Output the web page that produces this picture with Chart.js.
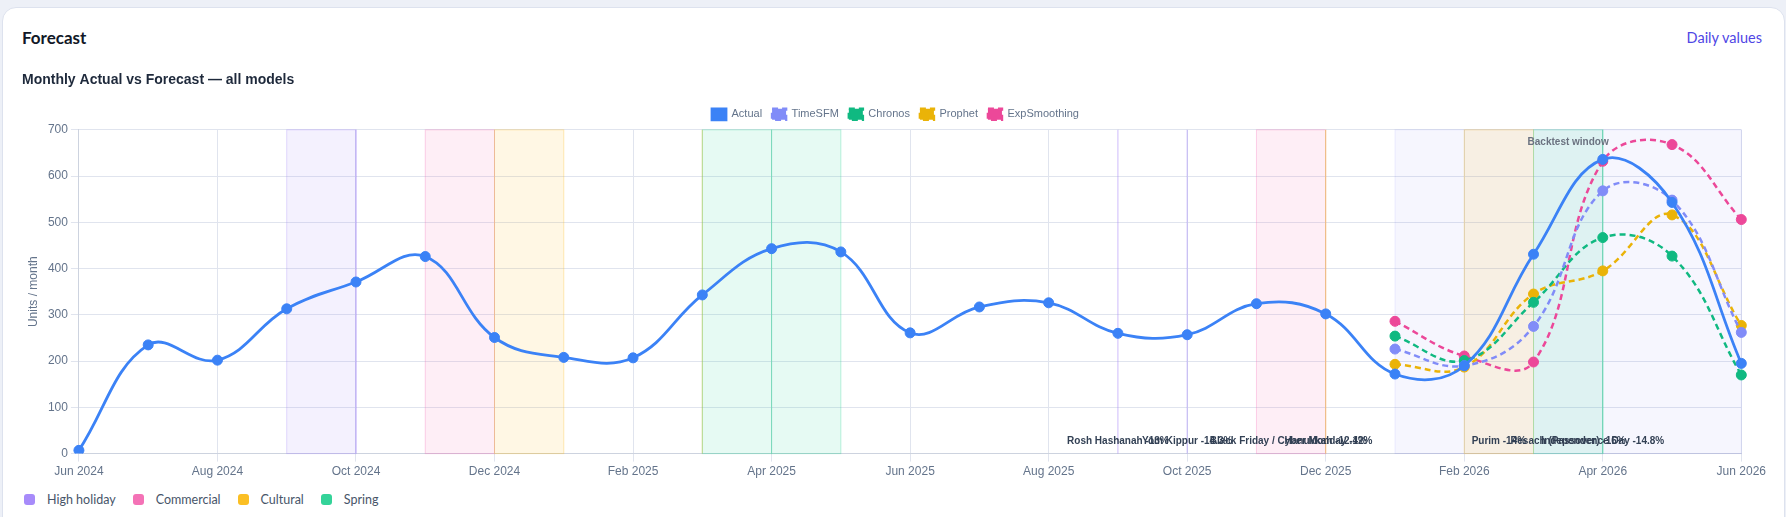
<!DOCTYPE html>
<html>
<head>
<meta charset="utf-8">
<script src="https://cdn.jsdelivr.net/npm/chart.js@4.4.1/dist/chart.umd.min.js"></script>
<style>
  html, body { margin:0; padding:0; width:1786px; height:517px; overflow:hidden; background:#edf0f7; font-family: Lato, "Noto Sans", sans-serif; }
  .card { position:absolute; left:2px; top:7px; width:1783px; height:560px; background:#fff; border:1px solid #dde2ee; border-radius:14px; box-sizing:border-box; }
  .hdr { position:absolute; left:22px; top:28px; font-size:17px; line-height:20px; font-weight:700; color:#111827; }
  .link { position:absolute; right:24px; top:28px; font-size:14.5px; line-height:20px; color:#4f46e5; }
  .wrap { position:absolute; left:22px; top:63px; width:1747px; height:419px; }
  .cats { position:absolute; left:24px; top:492px; display:flex; align-items:center; font-size:12.5px; color:#475569; }
  .cat { display:flex; align-items:center; margin-right:17px; }
  .dot { width:11px; height:11px; border-radius:3px; margin-right:12px; }
</style>
</head>
<body>
<div class="card"></div>
<div class="hdr">Forecast</div>
<div class="link">Daily values</div>
<div class="wrap"><canvas id="c"></canvas></div>
<div class="cats" id="cats"></div>
<script>
// ---- data ----
const months = ['Jun 2024','Jul 2024','Aug 2024','Sep 2024','Oct 2024','Nov 2024','Dec 2024',
  'Jan 2025','Feb 2025','Mar 2025','Apr 2025','May 2025','Jun 2025','Jul 2025','Aug 2025',
  'Sep 2025','Oct 2025','Nov 2025','Dec 2025','Jan 2026','Feb 2026','Mar 2026','Apr 2026',
  'May 2026','Jun 2026'];
const actual = [7,235,202,313,371,426,251,208,207,343,443,436,261,317,326,260,257,324,302,172,190,431,636,543,195];
const forecastStart = 'Jan 2026';
const timesfm = [226,190,275,568,548,262];
const chronos = [254,201,327,467,427,170];
const prophet = [193,187,345,395,516,277];
const expSmoothing = [286,211,198,632,668,506];

const backtestWindow = ['Jan 2026','Jun 2026'];

const holidayNames = ['Rosh Hashanah','Yom Kippur','Black Friday / Cyber Monday','Hanukkah','Purim','Pesach (Passover)','Independence Day',
  'Rosh Hashanah','Yom Kippur','Black Friday / Cyber Monday','Hanukkah','Purim','Pesach (Passover)','Independence Day'];
const holidayCats = ['High holiday','High holiday','Commercial','Cultural','Cultural','Spring','Spring',
  'High holiday','High holiday','Commercial','Cultural','Cultural','Spring','Spring'];
const holidayFrom = ['Sep 2024','Oct 2024','Nov 2024','Dec 2024','Mar 2025','Mar 2025','Apr 2025',
  'Sep 2025','Oct 2025','Nov 2025','Dec 2025','Feb 2026','Mar 2026','Apr 2026'];
const holidayTo = ['Oct 2024','Oct 2024','Dec 2024','Jan 2025','Mar 2025','Apr 2025','May 2025',
  'Sep 2025','Oct 2025','Dec 2025','Dec 2025','Mar 2026','Apr 2026','Apr 2026'];
const holidayImpact = [null,null,null,null,null,null,null,'-13%','-14.3%','-12%','-12.4%','-14%','-16%','-14.8%'];

const categoryNames = ['High holiday','Commercial','Cultural','Spring'];
const categoryColors = ['167,139,250','244,114,182','251,191,36','52,211,153'];

// ---- build ----
const startIdx = months.indexOf(forecastStart);
function pad(arr){ return months.map((m,i)=> i<startIdx ? null : arr[i-startIdx]); }

const catLegend = document.getElementById('cats');
categoryNames.forEach((n,i)=>{
  const d = document.createElement('div'); d.className='cat';
  d.innerHTML = '<span class="dot" style="background:rgb('+categoryColors[i]+')"></span>'+n;
  catLegend.appendChild(d);
});

const bandPlugin = {
  id:'bands',
  beforeDatasetsDraw(chart){
    const {ctx, chartArea:a, scales:{x}} = chart;
    const px = m => x.getPixelForValue(months.indexOf(m));
    ctx.save();
    const b0 = px(backtestWindow[0]), b1 = px(backtestWindow[1]);
    ctx.fillStyle = 'rgba(99,102,241,0.06)';
    ctx.fillRect(b0, a.top, b1-b0, a.bottom-a.top);
    ctx.strokeStyle = 'rgba(99,102,241,0.10)'; ctx.lineWidth = 1;
    ctx.strokeRect(b0, a.top, b1-b0, a.bottom-a.top);
    holidayNames.forEach((n,i)=>{
      const c = categoryColors[categoryNames.indexOf(holidayCats[i])];
      const x0 = px(holidayFrom[i]), x1 = px(holidayTo[i]);
      ctx.fillStyle = 'rgba('+c+',0.12)';
      ctx.fillRect(x0, a.top, x1-x0, a.bottom-a.top);
      ctx.strokeStyle = 'rgba('+c+',0.32)';
      ctx.lineWidth = 1;
      ctx.strokeRect(x0, a.top, x1-x0, a.bottom-a.top);
    });
    ctx.restore();
  },
  afterDatasetsDraw(chart){
    const {ctx, chartArea:a, scales:{x}} = chart;
    const px = m => x.getPixelForValue(months.indexOf(m));
    ctx.save();
    ctx.font = 'bold 10px "Liberation Sans", Arial, sans-serif';
    ctx.textAlign = 'center'; ctx.textBaseline = 'middle';
    ctx.fillStyle = '#6b7280';
    ctx.fillText('Backtest window', (px(backtestWindow[0])+px(backtestWindow[1]))/2, a.top+12);
    ctx.fillStyle = '#334155';
    holidayNames.forEach((n,i)=>{
      if (!holidayImpact[i]) return;
      const xc = (px(holidayFrom[i])+px(holidayTo[i]))/2;
      ctx.fillText(n+' '+holidayImpact[i], xc, a.bottom-12);
    });
    ctx.restore();
  }
};

const dash = [6,4];
function fc(label, data, color){
  return { label, data: pad(data), borderColor: color, backgroundColor: color,
    borderWidth: 2.5, borderDash: dash, pointRadius: 5, pointBorderWidth: 1,
    pointBackgroundColor: color, pointBorderColor: color, tension: 0.4, fill: false };
}

new Chart(document.getElementById('c'), {
  type: 'line',
  data: {
    labels: months,
    datasets: [
      { label:'Actual', data: actual, borderColor:'#3b82f6', backgroundColor:'#3b82f6', borderWidth:2.8,
        pointRadius:5, pointBorderWidth:1, pointBackgroundColor:'#3b82f6', pointBorderColor:'#3b82f6', tension:0.4, fill:false },
      fc('TimeSFM', timesfm, '#818cf8'),
      fc('Chronos', chronos, '#10b981'),
      fc('Prophet', prophet, '#eab308'),
      fc('ExpSmoothing', expSmoothing, '#ec4899')
    ]
  },
  options: {
    responsive: true, maintainAspectRatio: false, animation: false,
    plugins: {
      title: { display:true, text:'Monthly Actual vs Forecast — all models', align:'start',
        color:'#1e293b', font:{size:14, weight:'bold'}, padding:{top:9, bottom:10} },
      legend: { display:true, labels:{ color:'#64748b', font:{size:11}, boxWidth:14, boxHeight:11, padding:10 } },
      tooltip: { enabled:false }
    },
    scales: {
      x: { grid:{ color:'#e0e4ee' }, border:{ color:'#cdd3df' },
        ticks:{ color:'#64748b', font:{size:12}, maxRotation:0, autoSkip:true, maxTicksLimit:13 } },
      y: { min:0, max:700, grid:{ color:'#e0e4ee' }, border:{ color:'#cdd3df' },
        ticks:{ color:'#64748b', font:{size:12}, stepSize:100 },
        title:{ display:true, text:'Units / month', color:'#64748b', font:{size:12}, padding:{top:4, bottom:4.5} } }
    }
  },
  plugins: [bandPlugin]
});
</script>
</body>
</html>
